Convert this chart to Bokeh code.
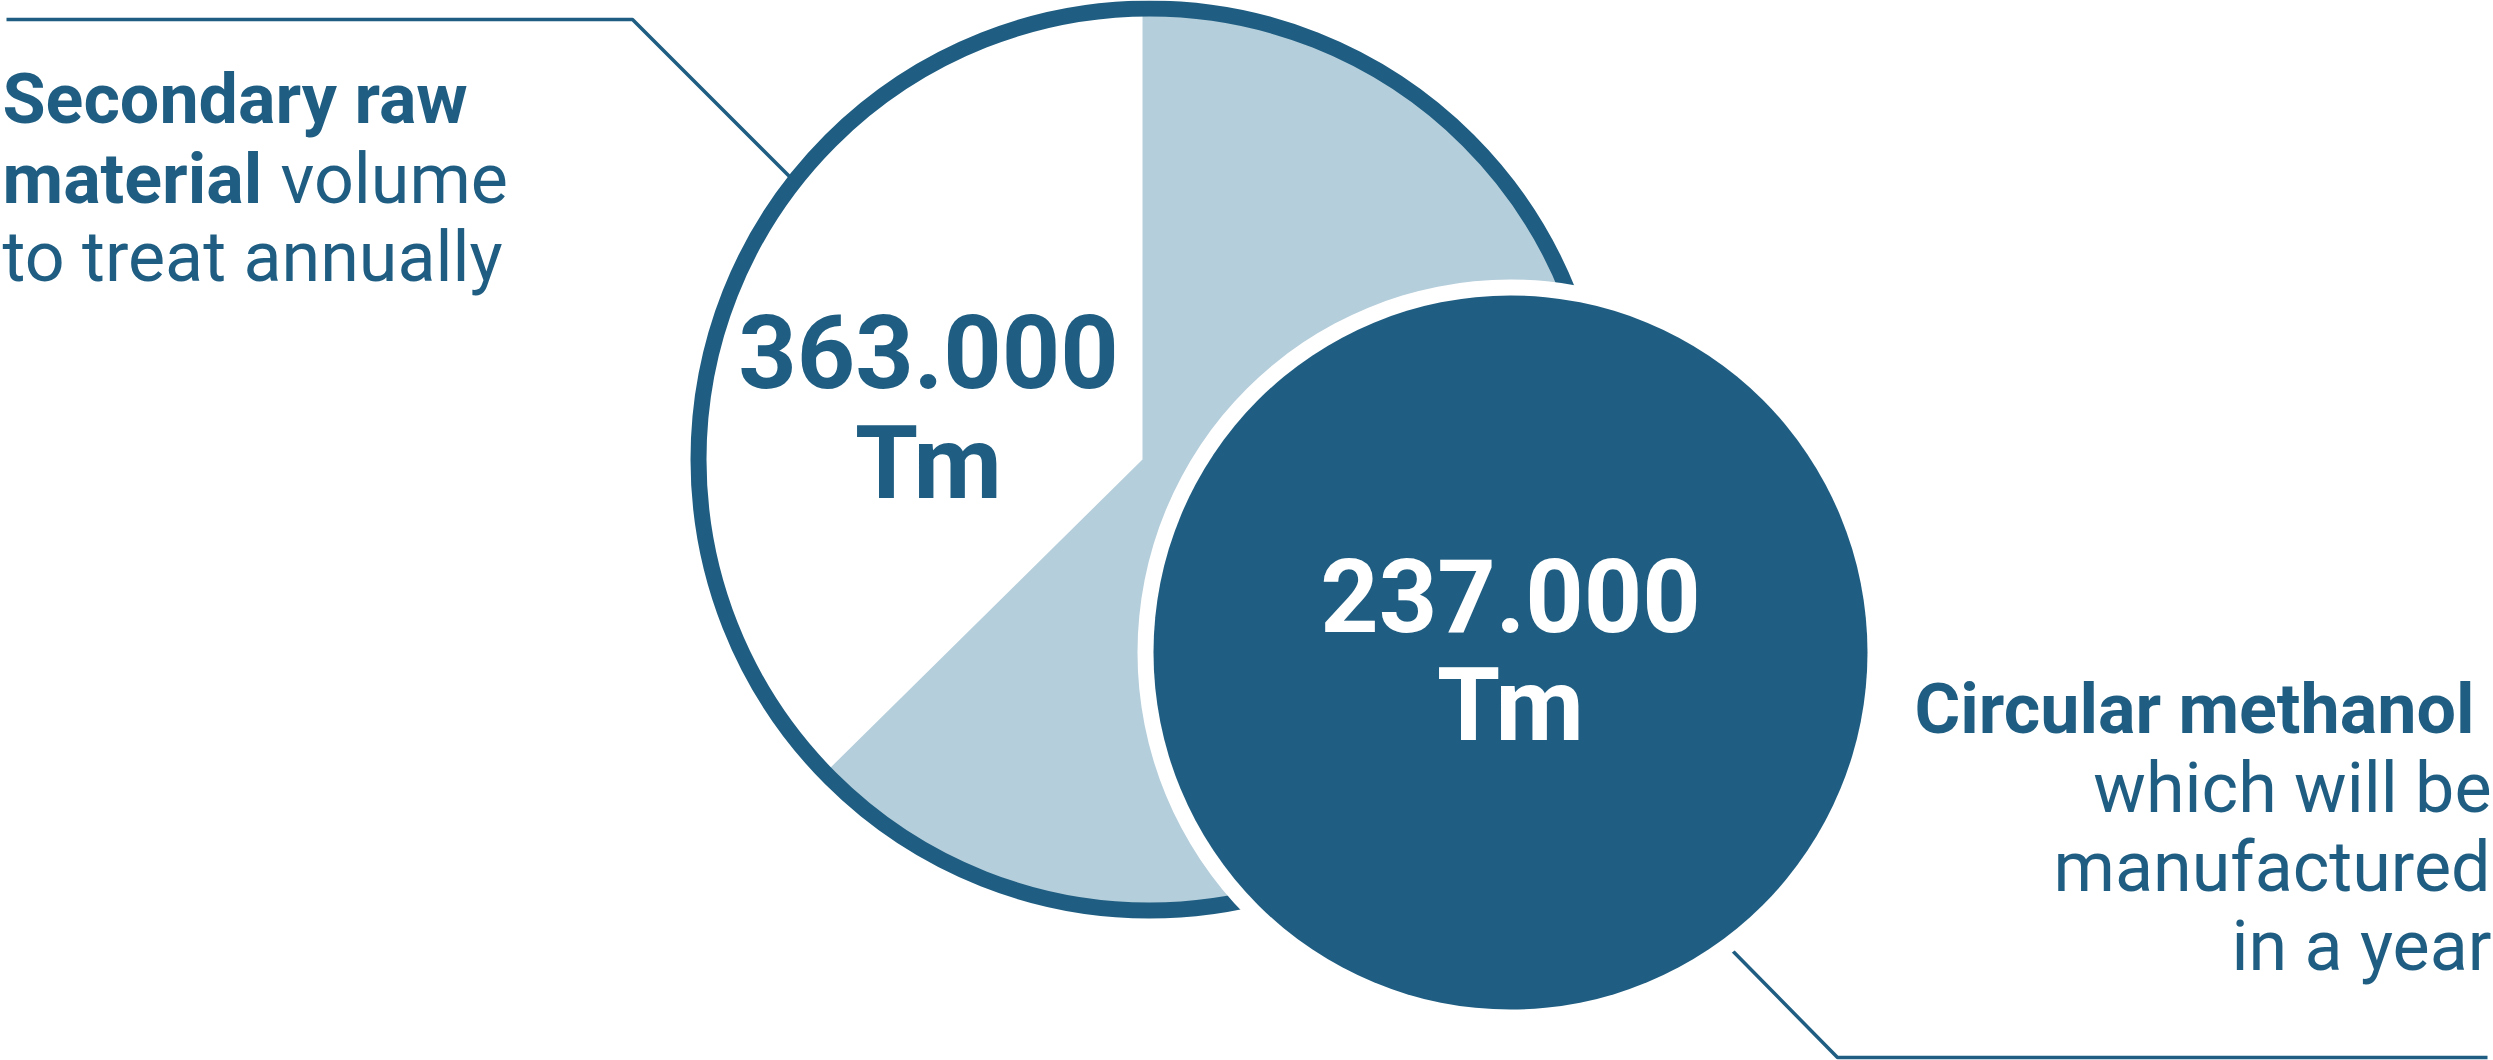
import math
from bokeh.plotting import figure
from bokeh.models import Range1d
from bokeh.core.properties import value
from bokeh.embed import file_html
from bokeh.resources import INLINE

# ---------------- data ----------------
value_labels = ["363.000", "237.000"]          # tonnes
unit_labels = ["Tm", "Tm"]
slice_names = ["rest of raw material", "circular methanol"]
slice_pct = [37.4, 62.6]                      # shares of the pie as drawn

left_bold = ["Secondary raw", "material", ""]
left_regular = ["", "volume", "to treat annually"]
right_bold = ["Circular methanol", "", "", ""]
right_regular = ["", "which will be", "manufactured", "in a year"]

# ---------------- layout / style ----------------
W, H = 2493, 1060
DARK = "#1f5e82"
LIGHT = "#b5cedb"
FONT = "Roboto"
TXT = "70px"
NUM = "102px"
TXT_SHIFT = 21     # compensation of the baseline placement
NUM_SHIFT = 34


def fy(y):
    return H - y


p = figure(width=W, height=H, x_range=Range1d(0, W), y_range=Range1d(0, H),
           output_backend="svg", toolbar_location=None, min_border=0)
p.axis.visible = False
p.grid.visible = False
p.outline_line_color = None
p.background_fill_color = "white"
p.border_fill_color = "white"

# leader lines
p.line(x=[6, 632, 795], y=[fy(19), fy(19), fy(182)], line_width=3.5, line_color=DARK)
p.line(x=[1715, 1837, 2487], y=[fy(933), fy(1057), fy(1057)], line_width=3.5, line_color=DARK)

# pie (white slice first, then light slice), starting at 12 o'clock counter-clockwise
starts, ends = [], []
a = math.pi / 2
for pct in slice_pct:
    starts.append(a)
    a += pct / 100 * 2 * math.pi
    ends.append(a)
p.wedge(x=1142, y=fy(459), radius=452, start_angle=starts, end_angle=ends,
        fill_color=["white", LIGHT], line_color=None)

# outer ring of big circle
p.ellipse(x=1149, y=fy(459), width=902, height=902, fill_color=None,
          line_color=DARK, line_width=16)

# small circle with white border
p.ellipse(x=1510, y=fy(652), width=746, height=746, fill_color="white", line_color=None)
p.ellipse(x=1510, y=fy(652), width=714, height=714, fill_color=DARK, line_color=None)

# value labels
p.text(x=[928, 928], y=[fy(385 - NUM_SHIFT), fy(496 - NUM_SHIFT)],
       text=[value_labels[0], unit_labels[0]],
       text_font=value(FONT), text_font_style="bold", text_font_size=NUM,
       text_color=DARK, text_align="center", text_baseline="alphabetic")
p.text(x=[1510, 1510], y=[fy(629 - NUM_SHIFT), fy(738 - NUM_SHIFT)],
       text=[value_labels[1], unit_labels[1]],
       text_font=value(FONT), text_font_style="bold", text_font_size=NUM,
       text_color="white", text_align="center", text_baseline="alphabetic")

# left description
p.text(x=[2, 2], y=[fy(119 - TXT_SHIFT), fy(199 - TXT_SHIFT)],
       text=[left_bold[0], left_bold[1]],
       text_font=value(FONT), text_font_style="bold", text_font_size=TXT,
       text_color=DARK, text_align="left", text_baseline="alphabetic")
p.text(x=[280, 2], y=[fy(199 - TXT_SHIFT), fy(277 - TXT_SHIFT)],
       text=[left_regular[1], left_regular[2]],
       text_font=value(FONT), text_font_style="normal", text_font_size=TXT,
       text_color=DARK, text_align="left", text_baseline="alphabetic")

# right description
p.text(x=[2474], y=[fy(729 - TXT_SHIFT)], text=[right_bold[0]],
       text_font=value(FONT), text_font_style="bold", text_font_size=TXT,
       text_color=DARK, text_align="right", text_baseline="alphabetic")
p.text(x=[2491, 2490, 2491], y=[fy(808 - TXT_SHIFT), fy(887 - TXT_SHIFT), fy(966 - TXT_SHIFT)],
       text=right_regular[1:],
       text_font=value(FONT), text_font_style="normal", text_font_size=TXT,
       text_color=DARK, text_align="right", text_baseline="alphabetic")

open("out.html", "w").write(file_html(p, INLINE))
